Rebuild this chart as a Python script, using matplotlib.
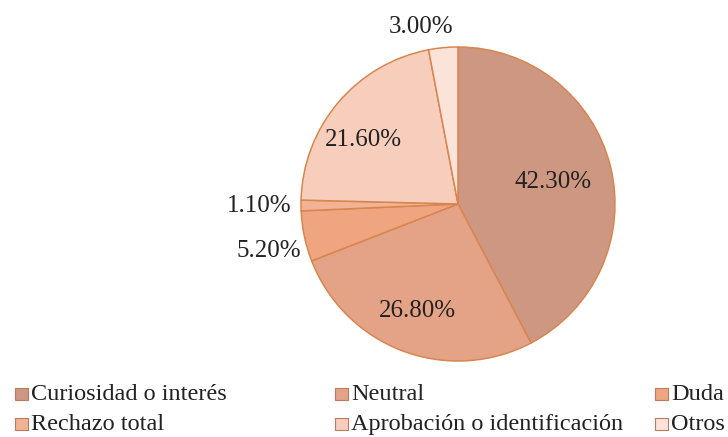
import numpy as np
import matplotlib
matplotlib.use("Agg")
import matplotlib.pyplot as plt
from matplotlib.patches import Rectangle
from matplotlib.transforms import ScaledTranslation

plt.rcParams["font.family"] = ["Liberation Serif", "DejaVu Serif"]

# data
categories = ["Curiosidad o interés", "Neutral", "Duda", "Rechazo total",
              "Aprobación o identificación", "Otros"]
values = [42.3, 26.8, 5.2, 1.1, 21.6, 3.0]
labels = ["42.30%", "26.80%", "5.20%", "1.10%", "21.60%", "3.00%"]

colors = ["#CE9782", "#E4A386", "#EFA580", "#F2B294", "#F7CDBB", "#FBE3D9"]
# label distance from centre (in radii) and small angle nudge (deg)
label_dist = [0.624, 0.718, 1.237, 1.268, 0.737, 1.164]
label_nudge = [0.3, -0.8, 1.5, -0.5, 5.5, 6.3]

W, H = 728, 437
fig = plt.figure(figsize=(W / 100, H / 100), dpi=100)

cx, cy, r = 458, 204, 157
ax = fig.add_axes([(cx - r) / W, (H - cy - r) / H, 2 * r / W, 2 * r / H])
wedges, _ = ax.pie(values, colors=colors, startangle=90, counterclock=False,
                   wedgeprops=dict(edgecolor="#D9854F", linewidth=1.1))
ax.set_xlim(-1, 1)
ax.set_ylim(-1, 1)
ax.set_aspect("equal")
ax.axis("off")

# shift baseline down by half the cap height so digits are centred
down = ax.transData + ScaledTranslation(0, -8 / 100, fig.dpi_scale_trans)
for w, lab, d, nud in zip(wedges, labels, label_dist, label_nudge):
    ang = np.deg2rad((w.theta1 + w.theta2) / 2 + nud)
    ax.text(d * np.cos(ang), d * np.sin(ang), lab, ha="center", va="baseline",
            fontsize=18, color="#222222", clip_on=False, transform=down)

# legend laid out like the reference (3 columns, 2 rows)
col_x = [15, 335, 655]
row_base = [400, 430]
for i, (cat, col) in enumerate(zip(categories, colors)):
    x = col_x[i % 3]
    y = row_base[i // 3]
    fig.patches.append(Rectangle((x / W, (H - y) / H), 13 / W, 12 / H,
                                 transform=fig.transFigure, facecolor=col,
                                 edgecolor="#B87A60", linewidth=0.8))
    fig.text((x + 16) / W, (H - y) / H, cat, ha="left", va="baseline",
             fontsize=17.5, color="#222222")

fig.savefig("out.png", dpi=100, facecolor="white")
